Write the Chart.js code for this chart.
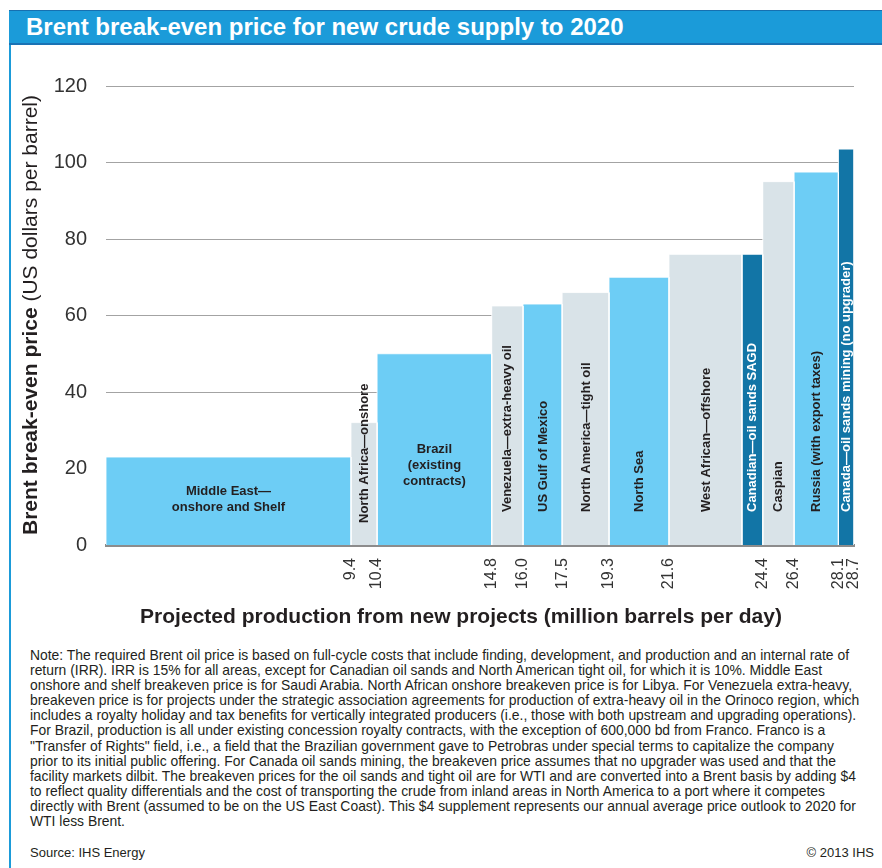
<!DOCTYPE html>
<html>
<head>
<meta charset="utf-8">
<script src="https://cdn.jsdelivr.net/npm/chart.js@4.4.1/dist/chart.umd.min.js"></script>
<style>
    html, body { margin: 0; padding: 0; background: #fff; }
    body { width: 882px; height: 868px; position: relative; overflow: hidden;
           font-family: "Liberation Sans", Arial, sans-serif; color: #231f20; }
    #banner { position: absolute; left: 9px; top: 10px; width: 873px; height: 32px;
              background: #1b9bd9; border-top: 1px solid #1670b0; border-bottom: 2px solid #1a72b4; }
    #banner span { position: absolute; left: 17px; top: 3px; color: #fff; font-weight: bold;
                   font-size: 24px; line-height: 26px; white-space: nowrap; }
    #frame { position: absolute; left: 9px; top: 45px; width: 2px; height: 823px; background: #1b9bd9; }
    #chart { position: absolute; left: 0; top: 0; }
    #note { position: absolute; left: 30px; top: 648px; font-size: 13.9px; line-height: 15.1px;
            white-space: nowrap; }
    #source { position: absolute; left: 30px; top: 845px; font-size: 13px; line-height: 16px; }
    #copy { position: absolute; right: 8px; top: 845px; font-size: 13px; line-height: 16px; }
</style>
</head>
<body>
<div id="banner"><span>Brent break-even price for new crude supply to 2020</span></div>
<div id="frame"></div>
<canvas id="chart" width="882" height="640"></canvas>
<div id="note">Note: The required Brent oil price is based on full-cycle costs that include finding, development, and production and an internal rate of<br>return (IRR). IRR is 15% for all areas, except for Canadian oil sands and North American tight oil, for which it is 10%. Middle East<br>onshore and shelf breakeven price is for Saudi Arabia. North African onshore breakeven price is for Libya. For Venezuela extra-heavy,<br>breakeven price is for projects under the strategic association agreements for production of extra-heavy oil in the Orinoco region, which<br>includes a royalty holiday and tax benefits for vertically integrated producers (i.e., those with both upstream and upgrading operations).<br>For Brazil, production is all under existing concession royalty contracts, with the exception of 600,000 bd from Franco. Franco is a<br>"Transfer of Rights" field, i.e., a field that the Brazilian government gave to Petrobras under special terms to capitalize the company<br>prior to its initial public offering. For Canada oil sands mining, the breakeven price assumes that no upgrader was used and that the<br>facility markets dilbit. The breakeven prices for the oil sands and tight oil are for WTI and are converted into a Brent basis by adding $4<br>to reflect quality differentials and the cost of transporting the crude from inland areas in North America to a port where it competes<br>directly with Brent (assumed to be on the US East Coast). This $4 supplement represents our annual average price outlook to 2020 for<br>WTI less Brent.</div>
<div id="source">Source: IHS Energy</div>
<div id="copy">© 2013 IHS</div>

<script>
// Supply segments, in the order they are stacked along the x axis
const categories = [
    'Middle East—\nonshore and Shelf',
    'North Africa—onshore',
    'Brazil\n(existing\ncontracts)',
    'Venezuela—extra-heavy oil',
    'US Gulf of Mexico',
    'North America—tight oil',
    'North Sea',
    'West African—offshore',
    'Canadian—oil sands SAGD',
    'Caspian',
    'Russia (with export taxes)',
    'Canada—oil sands mining (no upgrader)'
];

// Break-even price, US$ per barrel
const breakEven = [23, 32, 50, 62.5, 63, 66, 70, 76, 76, 95, 97.5, 103.5];

// Cumulative production at the right edge of each segment, million b/d
const cumulative = [9.4, 10.4, 14.8, 16.0, 17.5, 19.3, 21.6, 24.4, 25.2, 26.4, 28.1, 28.7];

// Tick labels printed under each segment edge
const xTickLabels = ['9.4', '10.4', '14.8', '16.0', '17.5', '19.3', '21.6', '', '24.4', '26.4', '28.1', '28.7'];

const BLUE = '#6dcdf5';
const GREY = '#d9e3e8';
const DARK = '#1275a6';
const barColors = [BLUE, GREY, BLUE, GREY, BLUE, GREY, BLUE, GREY, DARK, GREY, BLUE, DARK];

const TEXT = '#231f20';
const FONT = '"Liberation Sans", Arial, sans-serif';

// one filled outline per segment: left edge, top, right edge
const datasets = categories.map((name, i) => {
    const x0 = i ? cumulative[i - 1] : 0;
    const x1 = cumulative[i];
    return {
        label: name,
        data: [
            { x: x0, y: 0 },
            { x: x0, y: breakEven[i] },
            { x: x1, y: breakEven[i] },
            { x: x1, y: 0 }
        ],
        backgroundColor: barColors[i],
        borderColor: 'rgba(255,255,255,0.85)',
        borderWidth: 1,
        fill: 'origin',
        pointRadius: 0,
        tension: 0
    };
});

// where the two horizontal labels sit (in price units)
const labelAt = { 0: 11.8, 2: 20.7 };

const barText = {
    id: 'barText',
    afterDatasetsDraw(chart) {
        const { ctx, scales: { x, y } } = chart;
        const base = y.getPixelForValue(0);
        ctx.save();
        ctx.font = 'bold 13px ' + FONT;
        categories.forEach((name, i) => {
            const x0 = x.getPixelForValue(i ? cumulative[i - 1] : 0);
            const x1 = x.getPixelForValue(cumulative[i]);
            const mid = (x0 + x1) / 2;
            ctx.fillStyle = barColors[i] === DARK ? '#ffffff' : TEXT;
            const lines = name.split('\n');
            if (lines.length > 1) {
                const cy = y.getPixelForValue(labelAt[i]);
                ctx.textAlign = 'center';
                ctx.textBaseline = 'middle';
                lines.forEach((ln, k) => {
                    ctx.fillText(ln, mid, cy + (k - (lines.length - 1) / 2) * 16);
                });
            } else {
                const top = y.getPixelForValue(breakEven[i]);
                const w = ctx.measureText(name).width;
                const off = (w > base - top - 38) ? 22 : 33;
                ctx.save();
                ctx.translate(mid + 0.5, base - off);
                ctx.rotate(-Math.PI / 2);
                ctx.textAlign = 'left';
                ctx.textBaseline = 'middle';
                ctx.fillText(name, 0, 0);
                ctx.restore();
            }
        });
        ctx.restore();
    }
};

const axisTitles = {
    id: 'axisTitles',
    afterDraw(chart) {
        const { ctx } = chart;
        ctx.save();
        ctx.fillStyle = TEXT;
        ctx.textBaseline = 'middle';

        // y title: bold lead, regular unit
        ctx.save();
        ctx.translate(31, 535);
        ctx.rotate(-Math.PI / 2);
        ctx.textAlign = 'left';
        ctx.font = 'bold 21px ' + FONT;
        const lead = 'Brent break-even price';
        ctx.fillText(lead, 0, 0);
        const w = ctx.measureText(lead + ' ').width;
        ctx.font = '21px ' + FONT;
        ctx.fillText('(US dollars per barrel)', w, 0);
        ctx.restore();

        // x title
        ctx.textAlign = 'center';
        ctx.font = 'bold 21px ' + FONT;
        ctx.fillText('Projected production from new projects (million barrels per day)', 461, 617);
        ctx.restore();
    }
};

new Chart(document.getElementById('chart'), {
    type: 'line',
    data: { datasets },
    options: {
        responsive: false,
        animation: false,
        layout: { padding: { left: 0, top: 86, right: 28, bottom: 45 } },
        plugins: {
            legend: { display: false },
            tooltip: { enabled: false }
        },
        scales: {
            x: {
                type: 'linear',
                min: 0,
                max: 28.7,
                z: 1,
                afterFit: s => { s.height = 50; s.paddingLeft = 0; s.paddingRight = 0; },
                afterBuildTicks: s => { s.ticks = cumulative.map(v => ({ value: v })); },
                grid: { display: false, drawTicks: false },
                border: { display: true, color: '#8c8c8c', width: 3 },
                ticks: {
                    autoSkip: false,
                    minRotation: 90,
                    maxRotation: 90,
                    padding: 13,
                    color: '#333333',
                    font: { family: FONT, size: 16 },
                    callback: (v, i) => xTickLabels[i]
                }
            },
            y: {
                min: 0,
                max: 120,
                afterFit: s => { s.width = 106; },
                grid: { color: '#a3a3a3', lineWidth: 1, drawTicks: false },
                border: { display: false },
                ticks: {
                    stepSize: 20,
                    padding: 19,
                    color: '#333333',
                    font: { family: FONT, size: 20 }
                }
            }
        }
    },
    plugins: [barText, axisTitles]
});
</script>
</body>
</html>
